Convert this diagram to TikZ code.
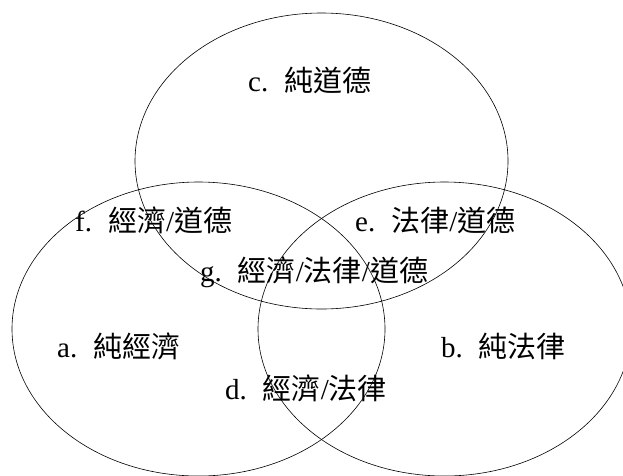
\documentclass[tikz,border=0pt]{standalone}
\usepackage{fontspec}
\setmainfont{Liberation Serif}
\newfontfamily\cjkfont{Noto Sans CJK TC}
\newcommand{\zh}[1]{{\cjkfont #1}}
\usetikzlibrary{shapes.geometric}
\begin{document}
\begin{tikzpicture}[x=1pt,y=-1pt,
  venn/.style={ellipse,draw,line width=0.6pt,inner sep=0pt,minimum width=373pt},
  lbl/.style={anchor=west,inner sep=0pt,font=\fontsize{29}{33}\selectfont}]
\useasboundingbox (0,0) rectangle (623,475);
\node[venn,minimum height=296pt] (moral) at (321.5,161) {};
\node[venn,minimum height=294pt] (econ) at (198.5,329) {};
\node[venn,minimum height=294pt] (law) at (444.5,329) {};
\node[lbl] (c) at (248,80) {c.\hspace{0.55em}\zh{純道德}};
\node[lbl] (f) at (75,220) {f.\hspace{0.55em}\zh{經濟}/\zh{道德}};
\node[lbl] (e) at (355,220) {e.\hspace{0.55em}\zh{法律}/\zh{道德}};
\node[lbl] (g) at (200,272) {g.\hspace{0.55em}\zh{經濟}/\zh{法律}/\zh{道德}};
\node[lbl] (a) at (57,346) {a.\hspace{0.55em}\zh{純經濟}};
\node[lbl] (b) at (441,346) {b.\hspace{0.55em}\zh{純法律}};
\node[lbl] (d) at (225,388) {d.\hspace{0.55em}\zh{經濟}/\zh{法律}};
\end{tikzpicture}
\end{document}
